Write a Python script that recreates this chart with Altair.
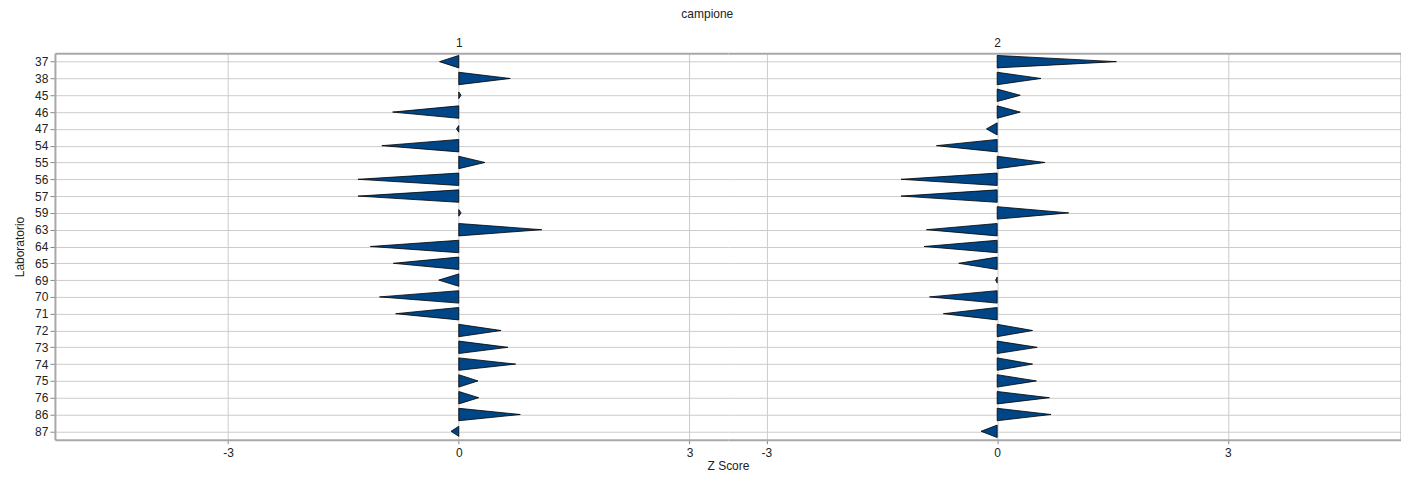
import altair as alt
import pandas as pd

labs = ["37", "38", "45", "46", "47", "54", "55", "56", "57", "59", "63", "64",
        "65", "69", "70", "71", "72", "73", "74", "75", "76", "86", "87"]
campioni = ["1", "2"]
z_camp1 = [-0.25, 0.67, 0.03, -0.86, -0.03, -1.00, 0.34, -1.31, -1.31, 0.03, 1.08, -1.15,
           -0.85, -0.26, -1.03, -0.82, 0.55, 0.64, 0.74, 0.25, 0.26, 0.80, -0.10]
z_camp2 = [1.55, 0.57, 0.30, 0.30, -0.14, -0.79, 0.62, -1.25, -1.25, 0.93, -0.92, -0.95,
           -0.50, -0.02, -0.88, -0.70, 0.46, 0.52, 0.46, 0.51, 0.68, 0.70, -0.21]
x_ticks = [-3, 0, 3]
x_domains = {"1": [-5.25, 3.5], "2": [-3.5, 5.25]}

FONT = "Liberation Sans"
FILL = "#004586"
BORDER = "#a8a8a8"
GRID = "#cccccc"
W, H = 674, 387


def cone_rows(values):
    rows = []
    for i, (lab, v) in enumerate(zip(labs, values)):
        h = min(0.37, 0.15 + 1.5 * abs(v))  # half base height (rows)
        rows.append({"lab": lab, "x": 0.0, "y": i - h, "y2": i + h})
        rows.append({"lab": lab, "x": v, "y": float(i), "y2": float(i)})
    return pd.DataFrame(rows)


label_expr = "[" + ",".join("'%s'" % l for l in labs) + "][datum.value]"


def panel(camp, values, first):
    d = cone_rows(values)
    xscale = alt.Scale(domain=x_domains[camp], nice=False, zero=False)
    yscale = alt.Scale(domain=[-0.5, len(labs) - 0.5], reverse=True, nice=False, zero=False)
    if first:
        yaxis = alt.Axis(orient="left", values=list(range(len(labs))), labelExpr=label_expr,
                         title="Laboratorio", grid=True, gridColor=GRID, domain=True,
                         domainColor=BORDER, domainWidth=2, tickColor="#888888", tickSize=5,
                         labelPadding=2, titlePadding=8)
        xaxis = alt.Axis(values=x_ticks, labelExpr="'' + datum.value", grid=True,
                         gridColor=GRID, domainColor=BORDER,
                         domainWidth=2, tickColor="#888888", tickSize=4, labelPadding=4,
                         title="Z Score", titleX=W, titleAlign="center", titlePadding=2)
    else:
        yaxis = alt.Axis(orient="right", values=list(range(len(labs))), labels=False,
                         ticks=False, title=None, grid=True, gridColor=GRID, domain=True,
                         domainColor=BORDER, domainWidth=2)
        xaxis = alt.Axis(values=x_ticks, labelExpr="'' + datum.value", grid=True,
                         gridColor=GRID, domainColor=BORDER,
                         domainWidth=2, tickColor="#888888", tickSize=4, labelPadding=4,
                         title=None)
    cones = alt.Chart(d).mark_area(orient="vertical", fill=FILL, stroke="#000000",
                                   strokeWidth=0.8, fillOpacity=1).encode(
        x=alt.X("x:Q", scale=xscale, axis=xaxis),
        y=alt.Y("y:Q", scale=yscale, axis=yaxis),
        y2="y2:Q",
        detail="lab:N",
    )
    top = alt.Chart(d).mark_point(opacity=0).encode(
        x=alt.X("x:Q", scale=xscale,
                axis=alt.Axis(orient="top", values=[0], labelExpr="'%s'" % camp, ticks=False,
                              grid=False, domain=True, domainColor=BORDER, domainWidth=2,
                              title=None, labelPadding=4)),
    )
    return alt.layer(cones, top).resolve_axis(x="independent").properties(width=W, height=H)


chart = alt.hconcat(
    panel(campioni[0], z_camp1, True),
    panel(campioni[1], z_camp2, False),
    spacing=0, bounds="flush",
).properties(
    title=alt.Title("campione", anchor="middle", fontSize=12, fontWeight="normal",
                    font=FONT, color="#222222", offset=15),
    padding={"left": 5, "top": 0, "right": 0, "bottom": 0},
).configure_view(stroke=None).configure_axis(
    labelFont=FONT, titleFont=FONT, labelFontSize=12, titleFontSize=12,
    titleFontWeight="normal", labelColor="#222222", titleColor="#222222",
)

chart.save("out.html", embed_options={"renderer": "svg", "actions": False})
